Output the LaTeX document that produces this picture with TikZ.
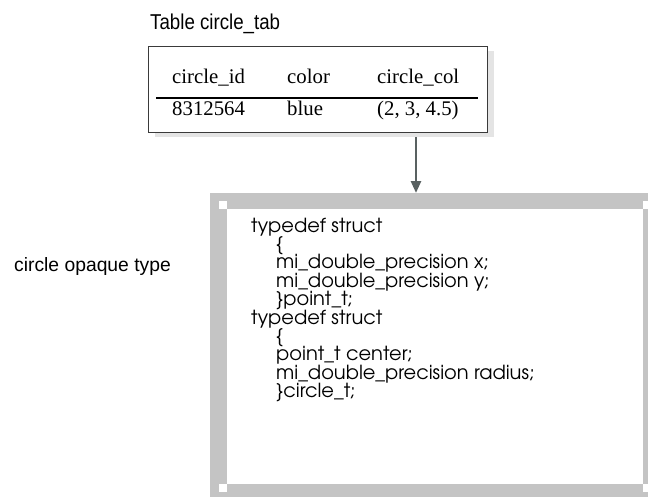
\documentclass[tikz,border=0pt]{standalone}
\usepackage{fontspec}
\setmainfont{Liberation Serif}
\newfontfamily\labelfont{Liberation Sans}
\newfontfamily\codefont{TeX Gyre Adventor}
\usetikzlibrary{math,arrows.meta,shadows}

\definecolor{bandgrey}{HTML}{C4C4C4}
\definecolor{shadegrey}{HTML}{E4E4E4}
\definecolor{arrowgrey}{HTML}{596161}
\definecolor{rulegrey}{HTML}{3A3A3A}

\begin{document}
\begin{tikzpicture}[x=1pt, y=-1pt,
  tabbox/.style={draw=rulegrey, line width=0.9pt, fill=white, inner sep=0pt,
    minimum width=339pt, minimum height=86pt,
    drop shadow={fill=shadegrey, opacity=1, shadow xshift=7pt, shadow yshift=-5pt}},
  cell/.style={anchor=base west, inner sep=0pt, font=\fontsize{20.8}{24}\selectfont},
  codeline/.style={anchor=base west, inner sep=0pt, font=\codefont\fontsize{19.4}{21}\selectfont},
  caption/.style={anchor=base west, inner sep=0pt, font=\labelfont},
  arr/.style={draw=arrowgrey, line width=2.6pt, -{Triangle[length=12pt,width=10pt]}}]
  \tikzmath{%
    \lx = 251; \ind = 25; \ly = 232; \dy = 18.4;
    \ca = 172; \cb = 287; \cc = 377;
  }
  \clip (0,0) rectangle (648,496);

  % table
  \node[caption, font=\labelfont\fontsize{21.5}{24}\selectfont] (title) at (150,29)
    {\scalebox{0.87}[1]{Table circle\_tab}};
  \node[tabbox] (tab) at (317.5,89) {};
  \node[cell] (hid) at (\ca,83) {circle\_id};
  \node[cell] (hcolor) at (\cb,83) {color};
  \node[cell] (hcol) at (\cc,83) {circle\_col};
  \draw[line width=1.6pt] (156,98) -- (478,98);
  \node[cell] (vid) at (\ca,115) {8312564};
  \node[cell] (vcolor) at (\cb,115) {blue};
  \node[cell] (vcol) at (\cc,115) {(2, 3, 4.5)};

  % opaque type
  \node[fill=bandgrey, anchor=north west, inner sep=0pt,
    minimum width=460pt, minimum height=320pt] (frame) at (210,193) {};
  \node[fill=white, anchor=north west, inner sep=0pt,
    minimum width=416pt, minimum height=275pt] (sheet) at (227,209) {};
  \fill[white] (sheet.north west) rectangle ++(-8,-8);
  \fill[white] (sheet.south west) rectangle ++(-8,8);
  \fill[white] (sheet.north east) rectangle ++(8,-8);
  \fill[white] (sheet.south east) rectangle ++(8,8);

  \node[caption, font=\labelfont\fontsize{19.3}{22}\selectfont] (kind) at (14,271)
    {circle opaque type};

  \foreach \n/\t [count=\i from 0] in {0/typedef struct, 1/\{,
      1/mi\_double\_precision x;, 1/mi\_double\_precision y;, 1/\}point\_t;,
      0/typedef struct, 1/\{, 1/point\_t center;,
      1/mi\_double\_precision radius;, 1/\}circle\_t;}
    \node[codeline] (line\i) at (\lx+\ind*\n, \ly+\dy*\i) {\t};

  \coordinate (tail) at (416,137);
  \draw[arr] (tail) -- (tail |- frame.north);
\end{tikzpicture}
\end{document}
